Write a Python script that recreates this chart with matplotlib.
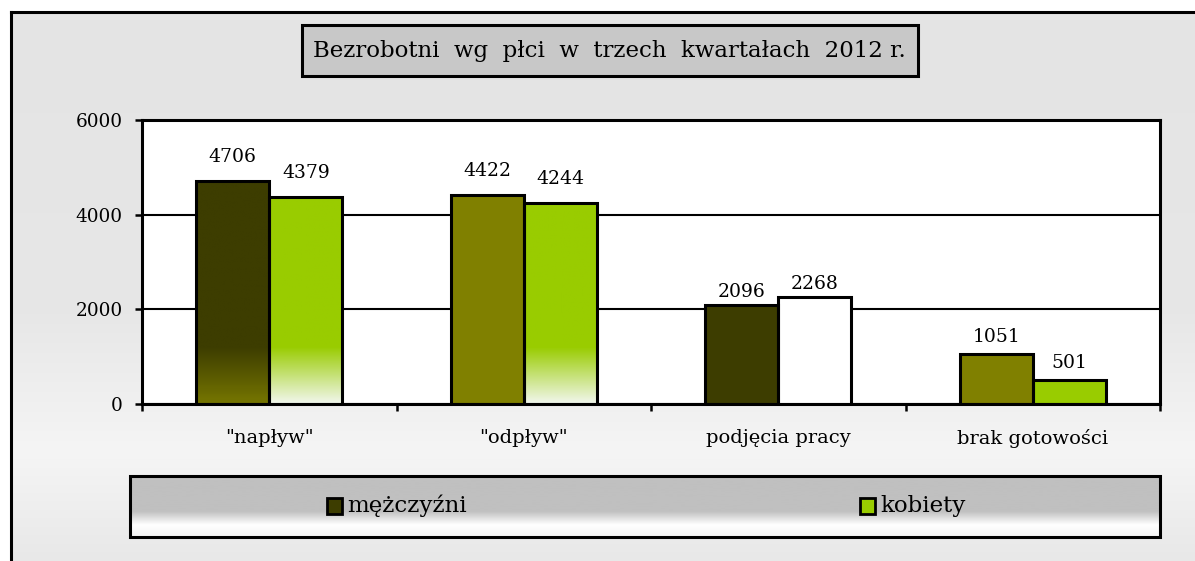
import numpy as np
import matplotlib.pyplot as plt
from matplotlib.patches import Rectangle
from matplotlib.colors import to_rgb

# dane
kategorie = ['"napływ"', '"odpływ"', 'podjęcia pracy', 'brak gotowości']
mezczyzni = [4706, 4422, 2096, 1051]
kobiety = [4379, 4244, 2268, 501]
serie = ['mężczyźni', 'kobiety']
tytul = 'Bezrobotni  wg  płci  w  trzech  kwartałach  2012 r.'
y_ticki = [0, 2000, 4000, 6000]

# kolory słupków (góra / dół gradientu)
m_gora = ['#3d3d00', '#808000', '#3d3d00', '#808000']
m_dol = ['#767600', '#808000', '#3d3d00', '#808000']
k_gora = ['#99cc00', '#99cc00', '#ffffff', '#99cc00']
k_dol = ['#f2f7ee', '#f2f7ee', '#ffffff', '#99cc00']
kolory_legendy = ['#3d3d00', '#99cc00']

plt.rcParams['font.family'] = ['DejaVu Serif']
W, H = 1195, 561
fig = plt.figure(figsize=(W / 100, H / 100), dpi=100)


def pionowy_gradient(punkty, n=561):
    # punkty: lista (pozycja 0..1 od góry, kolor)
    pos = [p for p, _ in punkty]
    cols = np.array([to_rgb(c) for _, c in punkty])
    t = np.linspace(0, 1, n)
    img = np.stack([np.interp(t, pos, cols[:, i]) for i in range(3)], axis=1)
    return img[:, None, :]


# tło całego wykresu
bg = fig.add_axes([0, 0, 1, 1], zorder=0)
bg.set_xlim(0, W)
bg.set_ylim(H, 0)
bg.axis('off')
bg.imshow(pionowy_gradient([(0, '#e4e4e4'), (0.55, '#e7e7e7'), (0.8, '#f5f5f5'), (1, '#e8e8e8')]),
          extent=(11, W, H, 12), aspect='auto', zorder=0)
bg.plot([11, 11], [H, 12], color='black', lw=2.2, zorder=1, solid_capstyle='projecting')
bg.plot([11, W], [12, 12], color='black', lw=2.2, zorder=1)

# tytuł w ramce
bg.add_patch(Rectangle((302, 25), 616, 51, facecolor='#c8c8c8', edgecolor='black', lw=2.2, zorder=2))
bg.text(609, 51, tytul, ha='center', va='center', fontsize=16.5, zorder=3)

# legenda w ramce
bg.imshow(pionowy_gradient([(0, '#c0c0c0'), (0.58, '#c0c0c0'), (0.8, '#ffffff'), (1, '#f4f4f4')], 100),
          extent=(130, 1160, 537, 476), aspect='auto', zorder=2)
bg.add_patch(Rectangle((130, 476), 1030, 61, fill=False, edgecolor='black', lw=2.2, zorder=3))
for x_m, nazwa, kol in zip([327, 860], serie, kolory_legendy):
    bg.add_patch(Rectangle((x_m, 498), 15, 16, facecolor=kol, edgecolor='black', lw=2, zorder=4))
    bg.text(x_m + 20, 506, nazwa, ha='left', va='center', fontsize=16.5, zorder=4)

# obszar wykresu
ax = fig.add_axes([142 / W, 1 - 404 / H, (1160 - 142) / W, 284 / H], zorder=1)
ax.set_facecolor('white')

x = np.arange(len(kategorie))
szer = 0.287
prog = 1200  # wysokość strefy gradientu


def slupek(xc, h, gora, dol):
    ax.bar(xc, h, szer, color=gora, zorder=2)
    if gora != dol:
        n = 200
        v = np.linspace(0, h, n)
        t = np.clip(v / prog, 0, 1)
        c0, c1 = np.array(to_rgb(dol)), np.array(to_rgb(gora))
        img = (c0[None, :] * (1 - t[:, None]) + c1[None, :] * t[:, None])[:, None, :]
        ax.imshow(img, extent=(xc - szer / 2, xc + szer / 2, 0, h), origin='lower',
                  aspect='auto', zorder=2.5)
    ax.bar(xc, h, szer, fill=False, edgecolor='black', lw=2.2, zorder=3)


for i in range(len(kategorie)):
    slupek(x[i] - szer / 2, mezczyzni[i], m_gora[i], m_dol[i])
    slupek(x[i] + szer / 2, kobiety[i], k_gora[i], k_dol[i])

# etykiety wartości
odstep = [15, 15, 4, 8]
for i in range(len(kategorie)):
    for xc, h in [(x[i] - szer / 2, mezczyzni[i]), (x[i] + szer / 2, kobiety[i])]:
        ax.annotate(str(h), (xc, h), xytext=(0, odstep[i]), textcoords='offset pixels',
                    ha='center', va='bottom', fontsize=13.5, zorder=4)

ax.set_xlim(-0.5, len(kategorie) - 0.5)
ax.set_ylim(0, 6000)
ax.set_yticks(y_ticki)
ax.yaxis.grid(True, color='black', lw=1.5, zorder=1)
ax.set_axisbelow(True)
ax.tick_params(axis='y', length=5, width=1.8, direction='out', labelsize=13.3, pad=9)

ax.set_xticks(np.arange(len(kategorie) + 1) - 0.5)
ax.set_xticklabels([])
ax.set_xticks(x, minor=True)
ax.set_xticklabels(kategorie, minor=True)
ax.tick_params(axis='x', which='major', length=5, width=1.8, direction='out')
ax.tick_params(axis='x', which='minor', length=0, labelsize=14, pad=18)

for s in ax.spines.values():
    s.set_linewidth(2.2)
    s.set_color('black')

fig.savefig('out.png', dpi=100)
